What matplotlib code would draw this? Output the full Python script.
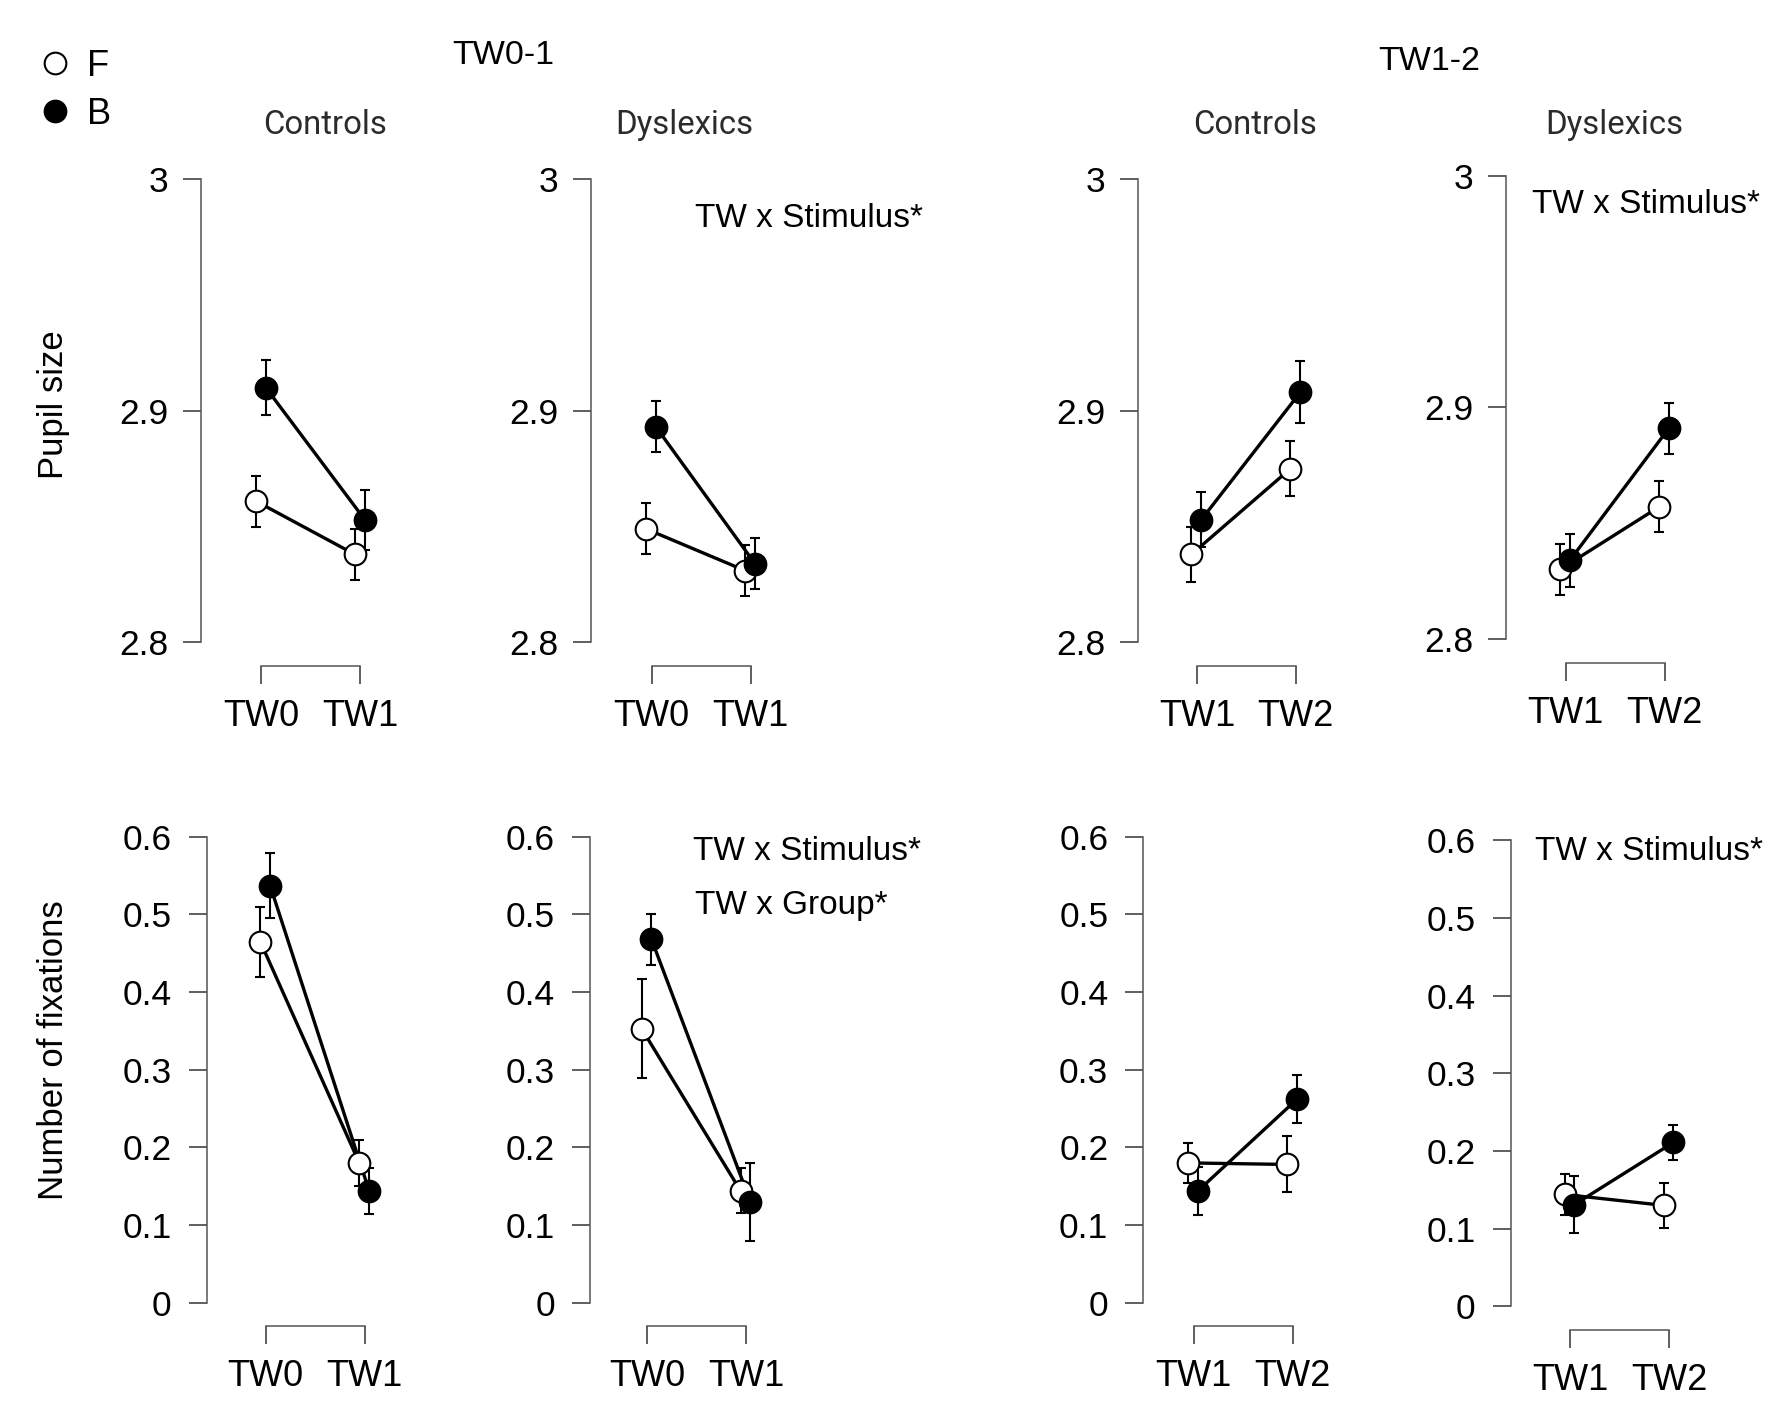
import matplotlib
matplotlib.use("Agg")
import matplotlib.pyplot as plt

plt.rcParams["font.family"] = ["Liberation Sans", "DejaVu Sans"]

# data (mean, error half-length)
panel_ticks = [["TW0", "TW1"], ["TW0", "TW1"], ["TW1", "TW2"], ["TW1", "TW2"]]
groups = ["Controls", "Dyslexics", "Controls", "Dyslexics"]

pupil_f = [[2.861, 2.838], [2.849, 2.831], [2.838, 2.875], [2.830, 2.857]]
pupil_f_err = [[0.011, 0.011], [0.011, 0.011], [0.012, 0.012], [0.011, 0.011]]
pupil_b = [[2.910, 2.853], [2.893, 2.834], [2.853, 2.908], [2.834, 2.891]]
pupil_b_err = [[0.012, 0.013], [0.011, 0.011], [0.012, 0.0135], [0.0115, 0.011]]

fix_f = [[0.465, 0.180], [0.353, 0.144], [0.180, 0.178], [0.144, 0.130]]
fix_f_err = [[0.045, 0.030], [0.064, 0.029], [0.026, 0.036], [0.027, 0.029]]
fix_b = [[0.537, 0.144], [0.468, 0.130], [0.144, 0.262], [0.131, 0.211]]
fix_b_err = [[0.042, 0.030], [0.033, 0.050], [0.031, 0.031], [0.037, 0.023]]

pupil_ticks = [2.8, 2.9, 3.0]
pupil_labels = ["2.8", "2.9", "3"]
fix_ticks = [0, 0.1, 0.2, 0.3, 0.4, 0.5, 0.6]
fix_labels = ["0", "0.1", "0.2", "0.3", "0.4", "0.5", "0.6"]

W, H = 1788, 1428
fig = plt.figure(figsize=(W / 100, H / 100), dpi=100)

# pixel layout of each panel: y-axis line, first x tick, top tick, bottom tick
rows = [
    dict(spine=[200.8, 591.0, 1137.6, 1506.0], x0=[261.3, 651.5, 1196.9, 1565.5],
         top=[179.1, 179.1, 179.1, 175.5], bot=[642.4, 642.4, 642.4, 639.0],
         f=pupil_f, fe=pupil_f_err, b=pupil_b, be=pupil_b_err,
         yt=pupil_ticks, yl=pupil_labels, lim=(2.8, 3.0), pad=10),
    dict(spine=[206.7, 589.9, 1143.3, 1510.7], x0=[265.7, 647.0, 1193.5, 1570.0],
         top=[836.7, 836.7, 836.7, 840.1], bot=[1302.7, 1302.7, 1302.7, 1306.4],
         f=fix_f, fe=fix_f_err, b=fix_b, be=fix_b_err,
         yt=fix_ticks, yl=fix_labels, lim=(0, 0.6), pad=12),
]
unit = 99.0
axcol = "#555555"

for r in rows:
    for i in range(4):
        left = r["spine"][i]
        right = r["x0"][i] + 1.7 * unit
        ax = fig.add_axes([left / W, 1 - r["bot"][i] / H,
                           (right - left) / W, (r["bot"][i] - r["top"][i]) / H])
        ax.set_xlim((left - r["x0"][i]) / unit, 1.7)
        ax.set_ylim(*r["lim"])
        ax.patch.set_alpha(0)
        for s in ["top", "right"]:
            ax.spines[s].set_visible(False)
        for s in ["left", "bottom"]:
            ax.spines[s].set_color(axcol)
            ax.spines[s].set_linewidth(1.1)
        ax.spines["bottom"].set_position(("outward", 17))
        ax.spines["bottom"].set_bounds(0, 1)
        ax.set_yticks(r["yt"])
        ax.set_yticklabels(r["yl"])
        ax.set_xticks([0, 1])
        ax.set_xticklabels(panel_ticks[i])
        ax.tick_params(axis="y", length=13.2, width=1.1, color="#333333",
                       pad=r["pad"], labelsize=25.5)
        ax.tick_params(axis="x", length=13.2, width=1.1, color="#333333", pad=10.5,
                       labelsize=26)

        xf = [-0.055, 0.945]
        xb = [0.045, 1.045]
        ax.plot(xf, r["f"][i], color="black", lw=2.4, zorder=2, clip_on=False)
        ax.plot(xb, r["b"][i], color="black", lw=2.4, zorder=2, clip_on=False)
        ax.errorbar(xf, r["f"][i], yerr=r["fe"][i], fmt="none", ecolor="black",
                    elinewidth=1.5, capsize=3.5, capthick=1.5, zorder=3, clip_on=False)
        ax.errorbar(xb, r["b"][i], yerr=r["be"][i], fmt="none", ecolor="black",
                    elinewidth=1.5, capsize=3.5, capthick=1.5, zorder=3, clip_on=False)
        ax.plot(xf, r["f"][i], "o", ms=15.6, mfc="white", mec="black", mew=1.5,
                zorder=4, clip_on=False)
        ax.plot(xb, r["b"][i], "o", ms=15.6, mfc="black", mec="black", mew=1.5,
                zorder=5, clip_on=False)

# panel group titles
for x, g in zip([325.5, 684.6, 1255.0, 1614.5], groups):
    fig.text(x / W, 1 - 125 / H, g, ha="center", va="center", fontsize=23.7,
             color="#2b2b2b", family=["Roboto", "DejaVu Sans"])

# time-window headers
fig.text(452.7 / W, 1 - 56 / H, "TW0-1", ha="left", va="center", fontsize=24.5)
fig.text(1429.7 / W, 1 - 62 / H, "TW1-2", ha="center", va="center", fontsize=24.5)

# y labels
fig.text(54 / W, 1 - 405 / H, "Pupil size", rotation=90, ha="center", va="center",
         fontsize=25)
fig.text(54 / W, 1 - 1049.7 / H, "Number of fixations", rotation=90, ha="center",
         va="center", fontsize=25)

# significance notes
notes = [(694.9, 218.6, "TW x Stimulus*"), (1531.7, 204.7, "TW x Stimulus*"),
         (692.6, 851.9, "TW x Stimulus*"), (694.9, 905.5, "TW x Group*"),
         (1534.6, 851.9, "TW x Stimulus*")]
for x, y, s in notes:
    fig.text(x / W, 1 - y / H, s, ha="left", va="center", fontsize=24)

# legend
fig.lines.append(plt.Line2D([55 / W], [1 - 63.3 / H], marker="o", ms=15.6,
                            mfc="white", mec="black", mew=1.5, ls="none",
                            transform=fig.transFigure))
fig.lines.append(plt.Line2D([55 / W], [1 - 111 / H], marker="o", ms=15.6,
                            mfc="black", mec="black", mew=1.5, ls="none",
                            transform=fig.transFigure))
fig.text(87 / W, 1 - 66 / H, "F", ha="left", va="center", fontsize=26)
fig.text(87 / W, 1 - 114 / H, "B", ha="left", va="center", fontsize=26)

fig.savefig("out.png", dpi=100)
